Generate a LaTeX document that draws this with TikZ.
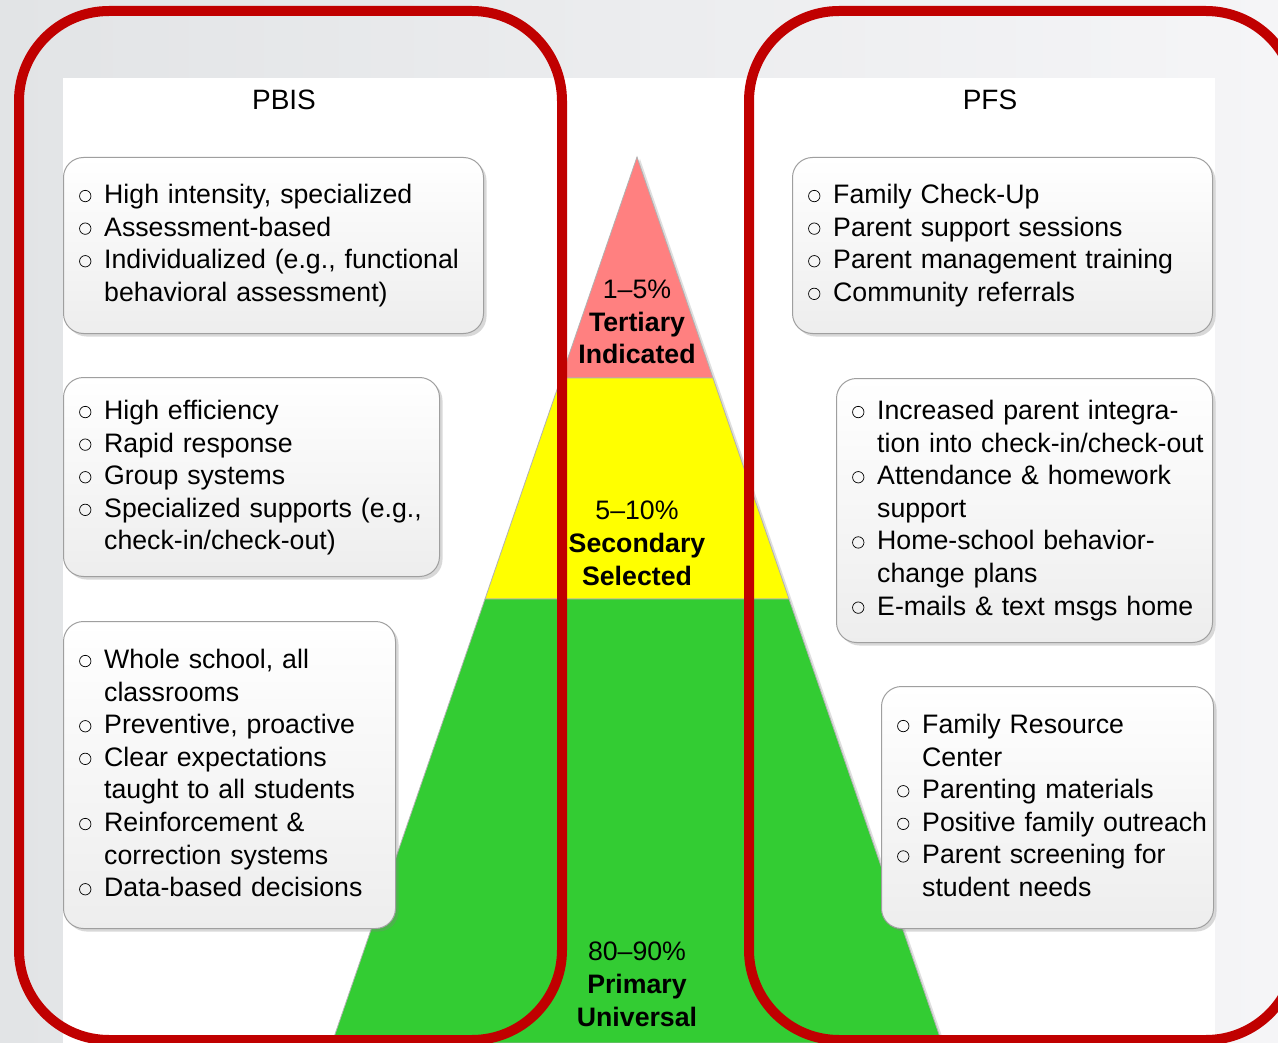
\documentclass[tikz,border=0pt]{standalone}
\usepackage{fontspec}
\setmainfont{Liberation Sans}
\usetikzlibrary{positioning,shadows}

\definecolor{frameRed}{HTML}{C00000}
\definecolor{tierRed}{HTML}{FF8080}
\definecolor{tierYellow}{HTML}{FFFF00}
\definecolor{tierGreen}{HTML}{33CC33}
\definecolor{backLeft}{HTML}{E2E4E6}
\definecolor{backRight}{HTML}{F5F5F7}

% hollow bullet and one bullet item with a hanging indent
\newcommand{\bulletmark}{\tikz[baseline=-7.5pt]\draw[line width=0.7pt] (0,0) circle (5.7pt);}
\newcommand{\itm}[1]{\hangindent=27pt\hangafter=1\noindent\makebox[27pt][l]{\hspace{2pt}\bulletmark}#1\par}

\tikzset{
  tierbox/.style={draw=gray!75, line width=1pt, rounded corners=20pt,
    top color=white, bottom color=gray!14, anchor=north west, inner sep=0pt,
    drop shadow={shadow xshift=3pt, shadow yshift=-3pt, opacity=0.3}},
  boxtext/.style={inner sep=0pt, text width=440pt, align=left,
    font=\fontsize{26.7}{32.6}\selectfont},
  tiertext/.style={anchor=north, inner sep=0pt, align=center,
    font=\fontsize{26.7}{32.6}\selectfont},
  heading/.style={anchor=base, inner sep=0pt, font=\fontsize{28}{32}\selectfont},
  tier/.style={draw=gray!60, line width=0.8pt,
    drop shadow={shadow xshift=3pt, shadow yshift=-2pt, opacity=0.25}},
  redframe/.style={draw=frameRed, line width=10pt, rounded corners=90pt}
}

\begin{document}
\begin{tikzpicture}[x=1pt,y=-1pt]
    \useasboundingbox (0,0) rectangle (1278,1043);
    \clip (0,0) rectangle (1278,1043);

    % backdrop
    \shade[left color=backLeft, right color=backRight] (0,0) rectangle (1278,1043);
    \fill[white] (63,78) rectangle (1215,1043);

    % pyramid
    \coordinate (apex) at (637,157);
    \coordinate (tl) at (561,378);  \coordinate (tr) at (713,378);
    \coordinate (sl) at (485,599);  \coordinate (sr) at (789,599);
    \coordinate (bl) at (332,1043); \coordinate (br) at (942,1043);
    \path[tier, fill=tierRed] (apex) -- (tr) -- (tl) -- cycle;
    \path[tier, fill=tierYellow] (tl) -- (tr) -- (sr) -- (sl) -- cycle;
    \path[tier, fill=tierGreen] (sl) -- (sr) -- (br) -- (bl) -- cycle;

    % PBIS boxes
    \node[tierbox, minimum width=420pt, minimum height=176pt] (pbisTop) at (63,157) {};
    \node[tierbox, minimum width=376pt, minimum height=199pt] (pbisMid) at (63,377) {};
    \node[tierbox, minimum width=332pt, minimum height=307pt] (pbisLow) at (63,621) {};

    % PFS boxes
    \node[tierbox, minimum width=420pt, minimum height=176pt] (pfsTop) at (792,157) {};
    \node[tierbox, minimum width=376pt, minimum height=264pt] (pfsMid) at (836,378) {};
    \node[tierbox, minimum width=332pt, minimum height=242pt] (pfsLow) at (881,686) {};

    \node[boxtext, below right=27pt and 14pt of pbisTop.north west] (pbisTopTxt) {%
        \itm{High intensity, specialized}
        \itm{Assessment-based}
        \itm{Individualized (e.g., functional\newline behavioral assessment)}};
    \node[boxtext, below right=23pt and 14pt of pbisMid.north west] (pbisMidTxt) {%
        \itm{High efficiency}
        \itm{Rapid response}
        \itm{Group systems}
        \itm{Specialized supports (e.g.,\newline check-in/check-out)}};
    \node[boxtext, below right=28pt and 14pt of pbisLow.north west] (pbisLowTxt) {%
        \itm{Whole school, all\newline classrooms}
        \itm{Preventive, proactive}
        \itm{Clear expectations\newline taught to all students}
        \itm{Reinforcement \&\newline correction systems}
        \itm{Data-based decisions}};

    \node[boxtext, below right=27pt and 14pt of pfsTop.north west] (pfsTopTxt) {%
        \itm{Family Check-Up}
        \itm{Parent support sessions}
        \itm{Parent management training}
        \itm{Community referrals}};
    \node[boxtext, below right=22pt and 14pt of pfsMid.north west] (pfsMidTxt) {%
        \itm{Increased parent integra-\newline tion into check-in/check-out}
        \itm{Attendance \& homework\newline support}
        \itm{Home-school behavior-\newline change plans}
        \itm{E-mails \& text msgs home}};
    \node[boxtext, below right=28pt and 14pt of pfsLow.north west] (pfsLowTxt) {%
        \itm{Family Resource\newline Center}
        \itm{Parenting materials}
        \itm{Positive family outreach}
        \itm{Parent screening for\newline student needs}};

    % red frames
    \draw[redframe] (19,11) rectangle (562,1040);
    \draw[redframe] (749,11) rectangle (1296,1040);

    % headings and tier labels
    \node[heading] (pbisHead) at (284,110) {PBIS};
    \node[heading] (pfsHead) at (990,110) {PFS};
    \node[tiertext] (tertiaryTxt) at (637,280) {1--5\%\\\textbf{Tertiary}\\\textbf{Indicated}};
    \node[tiertext] (secondaryTxt) at (637,501) {5--10\%\\\textbf{Secondary}\\\textbf{Selected}};
    \node[tiertext] (primaryTxt) at (637,942) {80--90\%\\\textbf{Primary}\\\textbf{Universal}};
\end{tikzpicture}
\end{document}
